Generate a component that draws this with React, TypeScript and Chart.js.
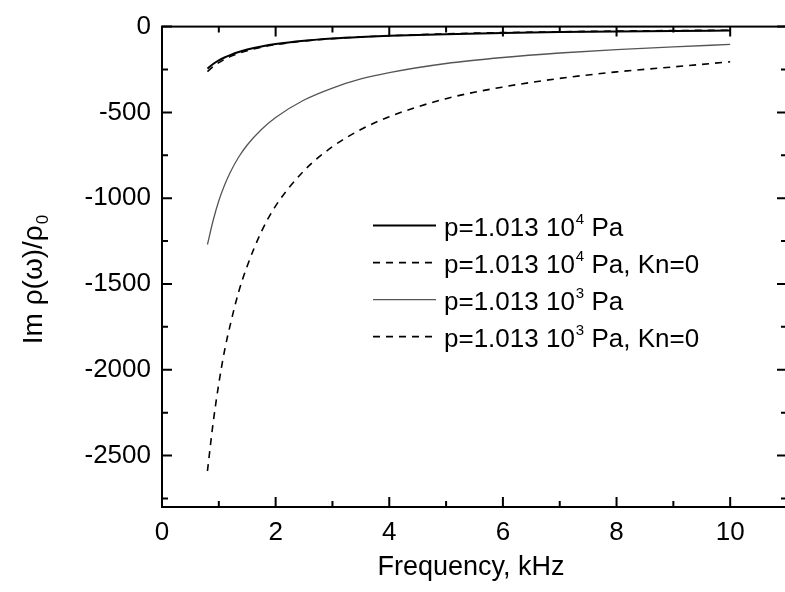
import React, { useEffect, useRef } from "react";
import { Chart, registerables } from "chart.js";

Chart.register(...registerables);

// ---- data ----
const freqKHz = [0.8, 0.9, 1, 1.1, 1.2, 1.35, 1.5, 1.75, 2, 2.5, 3, 3.5, 4, 5, 6, 7, 8, 9, 10];
const imP4 = [-245, -218, -197, -180, -166, -148, -134, -116, -102, -83, -70, -61, -54, -44, -37, -32, -28, -25, -23];
const imP4Kn0 = [-262, -233, -210, -191, -175, -156, -140, -120, -105, -84, -70, -60, -53, -42, -35, -30, -26, -23, -21];
const imP3 = [-1270, -1130, -1015, -925, -850, -760, -690, -600, -530, -428, -358, -305, -268, -215, -180, -154, -134, -118, -104];
const imP3Kn0 = [-2590, -2310, -2080, -1890, -1740, -1545, -1395, -1195, -1045, -840, -700, -600, -525, -420, -352, -302, -264, -235, -205];

const xMajorTicks = [0, 2, 4, 6, 8, 10];
const xMinorTicks = [1, 3, 5, 7, 9, 11];
const yMajorTicks = [0, -500, -1000, -1500, -2000, -2500];
const yMinorTicks = [-250, -750, -1250, -1750, -2250, -2750];

const legendItems = [
  { pre: "p=1.013 10", sup: "4", post: " Pa" },
  { pre: "p=1.013 10", sup: "4", post: " Pa, Kn=0" },
  { pre: "p=1.013 10", sup: "3", post: " Pa" },
  { pre: "p=1.013 10", sup: "3", post: " Pa, Kn=0" },
];

const FONT = "'Liberation Sans', Arial, sans-serif";

const toPoints = (ys: number[]) => ys.map((y, i) => ({ x: freqKHz[i], y }));

const styles = [
  { color: "#000", width: 2, dash: [] as number[] },
  { color: "#000", width: 1.6, dash: [7, 6] },
  { color: "#555", width: 1.3, dash: [] as number[] },
  { color: "#000", width: 1.6, dash: [7, 6] },
];

const decorPlugin = {
  id: "decor",
  afterDraw(chart: any) {
    const { ctx, chartArea: a, scales } = chart;
    const x = scales.x;
    const y = scales.y;
    ctx.save();
    // frame
    ctx.strokeStyle = "#000";
    ctx.lineWidth = 2;
    ctx.strokeRect(a.left, a.top, a.right - a.left, a.bottom - a.top);
    // ticks (inward on all four sides)
    const xt = (v: number, len: number) => {
      const px = x.getPixelForValue(v);
      ctx.beginPath();
      ctx.moveTo(px, a.bottom);
      ctx.lineTo(px, a.bottom - len);
      ctx.moveTo(px, a.top);
      ctx.lineTo(px, a.top + len);
      ctx.stroke();
    };
    const yt = (v: number, len: number) => {
      const py = y.getPixelForValue(v);
      ctx.beginPath();
      ctx.moveTo(a.left, py);
      ctx.lineTo(a.left + len, py);
      ctx.moveTo(a.right, py);
      ctx.lineTo(a.right - len, py);
      ctx.stroke();
    };
    xMajorTicks.forEach((v) => xt(v, 10));
    xMinorTicks.forEach((v) => xt(v, 6));
    yMajorTicks.forEach((v) => yt(v, 10));
    yMinorTicks.forEach((v) => yt(v, 6));

    // legend
    const lx = a.left + 211;
    const ly = a.top + 199;
    const rowH = 37;
    legendItems.forEach((it, i) => {
      const s = styles[i];
      const cy = ly + i * rowH;
      ctx.strokeStyle = s.color;
      ctx.lineWidth = s.width;
      ctx.setLineDash(s.dash);
      ctx.beginPath();
      ctx.moveTo(lx, cy);
      ctx.lineTo(lx + 63, cy);
      ctx.stroke();
      ctx.setLineDash([]);
      ctx.fillStyle = "#000";
      ctx.textBaseline = "middle";
      ctx.textAlign = "left";
      let tx = lx + 71;
      ctx.font = `26px ${FONT}`;
      ctx.fillText(it.pre, tx, cy + 3);
      tx += ctx.measureText(it.pre).width + 1;
      ctx.font = `15px ${FONT}`;
      ctx.fillText(it.sup, tx, cy - 6);
      tx += ctx.measureText(it.sup).width;
      ctx.font = `26px ${FONT}`;
      ctx.fillText(it.post, tx, cy + 3);
    });

    // x title
    ctx.font = `27px ${FONT}`;
    ctx.textAlign = "center";
    ctx.textBaseline = "middle";
    ctx.fillText("Frequency, kHz", 471, 568);

    // y title with subscript
    ctx.translate(34, 280);
    ctx.rotate(-Math.PI / 2);
    const main = "Im \u03c1(\u03c9)/\u03c1";
    ctx.font = `28px ${FONT}`;
    const w1 = ctx.measureText(main).width;
    ctx.font = `17px ${FONT}`;
    const w2 = ctx.measureText("0").width;
    const sx = -(w1 + w2) / 2;
    ctx.textAlign = "left";
    ctx.font = `28px ${FONT}`;
    ctx.fillText(main, sx, 0);
    ctx.font = `17px ${FONT}`;
    ctx.fillText("0", sx + w1 + 1, 9);
    ctx.restore();
  },
};

export default function App() {
  const ref = useRef<HTMLCanvasElement | null>(null);
  useEffect(() => {
    if (!ref.current) return;
    const datasets = [imP4, imP4Kn0, imP3, imP3Kn0].map((ys, i) => ({
      label: legendItems[i].pre + legendItems[i].sup + legendItems[i].post,
      data: toPoints(ys),
      borderColor: styles[i].color,
      borderWidth: styles[i].width,
      borderDash: styles[i].dash,
      pointRadius: 0,
      fill: false,
      cubicInterpolationMode: "monotone" as const,
    }));
    const chart = new Chart(ref.current, {
      type: "line",
      data: { datasets },
      options: {
        animation: false,
        responsive: false,
        maintainAspectRatio: false,
        layout: { padding: { left: 0, top: 25, right: 13, bottom: 0 } },
        plugins: { legend: { display: false }, tooltip: { enabled: false } },
        scales: {
          x: {
            type: "linear",
            min: 0,
            max: 11,
            grid: { display: false, drawTicks: false },
            border: { display: false },
            afterBuildTicks: (s: any) => {
              s.ticks = xMajorTicks.map((v) => ({ value: v }));
            },
            afterFit: (s: any) => {
              s.height = 85;
            },
            ticks: {
              color: "#000",
              padding: 10,
              maxRotation: 0,
              callback: (v: any) => String(v),
              font: { family: FONT, size: 26 },
            },
          },
          y: {
            type: "linear",
            min: -2800,
            max: 0,
            grid: { display: false, drawTicks: false },
            border: { display: false },
            afterBuildTicks: (s: any) => {
              s.ticks = yMajorTicks.map((v) => ({ value: v }));
            },
            afterFit: (s: any) => {
              s.width = 162;
            },
            ticks: {
              color: "#000",
              padding: 11,
              callback: (v: any) => String(v),
              font: { family: FONT, size: 26 },
            },
          },
        },
      },
      plugins: [decorPlugin],
    });
    return () => chart.destroy();
  }, []);
  return (
    <div style={{ position: "absolute", left: 0, top: 0, width: 785, height: 592, overflow: "hidden", background: "#fff" }}>
      <canvas ref={ref} width={800} height={592} style={{ display: "block", width: 800, height: 592 }} />
    </div>
  );
}
